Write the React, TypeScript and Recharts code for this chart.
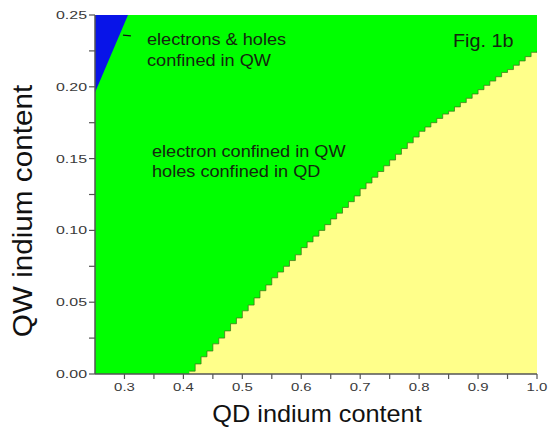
import React from 'react';
import { Area, CartesianGrid, ComposedChart, Customized, XAxis, YAxis } from 'recharts';

// Confinement map: QD indium content (x) vs QW indium content (y).
// Green is the background regime; blue and yellow are drawn on top.
const GREEN = '#00FF00';
const BLUE = '#0814E8';
const YELLOW = '#FFFF8A';
const AXIS = '#555';
const INK = '#14260f';
const FONT = '"Liberation Sans", Arial, sans-serif';

// staircase edge of the "electrons & holes in QD" region
const QD_X = [
  0.41, 0.42, 0.43, 0.44, 0.45, 0.46, 0.47, 0.48, 0.49, 0.5,
  0.51, 0.52, 0.53, 0.54, 0.55, 0.56, 0.57, 0.58, 0.59, 0.6,
  0.61, 0.62, 0.63, 0.64, 0.65, 0.66, 0.67, 0.68, 0.69, 0.7,
  0.71, 0.72, 0.73, 0.74, 0.75, 0.76, 0.77, 0.78, 0.79, 0.8,
  0.81, 0.82, 0.83, 0.84, 0.85, 0.86, 0.87, 0.88, 0.89, 0.9,
  0.91, 0.92, 0.93, 0.94, 0.95, 0.96, 0.97, 0.98, 0.99, 1.0,
];
const QW_EDGE = [
  0.002, 0.007, 0.012, 0.016, 0.021, 0.025, 0.03, 0.035, 0.039, 0.044,
  0.048, 0.053, 0.058, 0.062, 0.067, 0.071, 0.075, 0.079, 0.083, 0.088,
  0.092, 0.096, 0.1, 0.104, 0.108, 0.112, 0.116, 0.12, 0.124, 0.129,
  0.133, 0.137, 0.141, 0.145, 0.149, 0.153, 0.157, 0.161, 0.165, 0.169,
  0.172, 0.175, 0.178, 0.181, 0.183, 0.186, 0.189, 0.192, 0.195, 0.198,
  0.201, 0.204, 0.207, 0.21, 0.212, 0.215, 0.218, 0.221, 0.224, 0.225,
];

// "electrons & holes in QW" wedge in the top-left corner
const QW_CORNER_X = [0.25, 0.306];
const QW_CORNER_LOW = [0.196, 0.25];
const QW_TOP = 0.25;

const X_TICKS = [0.3, 0.35, 0.4, 0.45, 0.5, 0.55, 0.6, 0.65, 0.7, 0.75, 0.8, 0.85, 0.9, 0.95, 1.0];
const Y_TICKS = [0, 0.025, 0.05, 0.075, 0.1, 0.125, 0.15, 0.175, 0.2, 0.225, 0.25];

type Row = { x: number; blue: [number, number] | null; yellow: number | null };

const rows: Row[] = [
  ...QW_CORNER_X.map((x, i) => ({ x, blue: [QW_CORNER_LOW[i], QW_TOP] as [number, number], yellow: null })),
  ...QD_X.map((x, i) => ({ x, blue: null, yellow: QW_EDGE[i] })),
];

const isMult = (v: number, step: number) => Math.abs(v / step - Math.round(v / step)) < 1e-6;

function XTick(p: any) {
  const v = p.payload.value as number;
  if (!isMult(v, 0.1)) return <g />;
  return (
    <g transform={`translate(${p.x},${p.y})`}>
      <text textAnchor="middle" dy={10} transform="scale(1.3,1)" fontSize={11.5} fill="#3a3a3a" fontFamily={FONT}>
        {v.toFixed(1)}
      </text>
    </g>
  );
}

function YTick(p: any) {
  const v = p.payload.value as number;
  if (!isMult(v, 0.05)) return <g />;
  return (
    <g transform={`translate(${p.x},${p.y})`}>
      <text textAnchor="end" dy={4} transform="scale(1.45,1)" fontSize={11} fill="#3a3a3a" fontFamily={FONT}>
        {v.toFixed(2)}
      </text>
    </g>
  );
}

const blank = () => <g />;

function Notes() {
  const t = (x: number, y: number, s: string, size = 16.5) => (
    <text transform={`translate(${x},${y}) scale(1.1,1)`} fontSize={size} fill={INK} fontFamily={FONT}>
      {s}
    </text>
  );
  return (
    <g>
      <line x1={106} y1={34} x2={134} y2={36} stroke="#111" strokeWidth={1.3} strokeDasharray="8 9" />
      {t(147, 45, 'electrons & holes')}
      {t(147, 66, 'confined in QW')}
      {t(152, 157, 'electron confined in QW')}
      {t(152, 177, 'holes confined in QD')}
      {t(350, 300, 'electrons & holes')}
      {t(350, 322, 'confined in QD')}
      {t(453, 47, 'Fig. 1b', 18)}
      <text transform="translate(317,422) scale(1.1,1)" textAnchor="middle" fontSize={23} fill="#111" fontFamily={FONT}>
        QD indium content
      </text>
      <text transform="translate(32,211) rotate(-90) scale(1.1,1)" textAnchor="middle" fontSize={27} fill="#111" fontFamily={FONT}>
        QW indium content
      </text>
    </g>
  );
}

export default function App() {
  const axisLine = { stroke: AXIS, strokeWidth: 1.5 };
  const tickLine = { stroke: AXIS, strokeWidth: 1.2 };
  return (
    <div style={{ position: 'absolute', left: 0, top: 0, width: 551, height: 432, background: '#fff' }}>
      <ComposedChart width={551} height={432} data={rows} margin={{ top: 15, right: 14, bottom: 0, left: 0 }}>
        <CartesianGrid fill={GREEN} horizontal={false} vertical={false} />
        <XAxis dataKey="x" type="number" domain={[0.25, 1]} allowDataOverflow ticks={X_TICKS}
          height={58} tick={XTick} tickSize={5} axisLine={axisLine} tickLine={tickLine} />
        <XAxis xAxisId="top" orientation="top" type="number" domain={[0.25, 1]} ticks={X_TICKS}
          height={0} mirror tick={blank} tickSize={5} axisLine={axisLine} tickLine={tickLine} />
        <YAxis type="number" domain={[0, 0.25]} allowDataOverflow ticks={Y_TICKS}
          width={95} tick={YTick} tickSize={6} axisLine={axisLine} tickLine={tickLine} />
        <YAxis yAxisId="right" orientation="right" type="number" domain={[0, 0.25]} ticks={Y_TICKS}
          width={0} mirror tick={blank} tickSize={5} axisLine={axisLine} tickLine={tickLine} />
        <Area dataKey="blue" type="linear" fill={BLUE} fillOpacity={1} stroke="none" isAnimationActive={false} />
        <Area dataKey="yellow" type="stepAfter" fill={YELLOW} fillOpacity={1} stroke="#3f6a1c"
          strokeWidth={0.7} isAnimationActive={false} />
        <Customized component={Notes} />
      </ComposedChart>
    </div>
  );
}
